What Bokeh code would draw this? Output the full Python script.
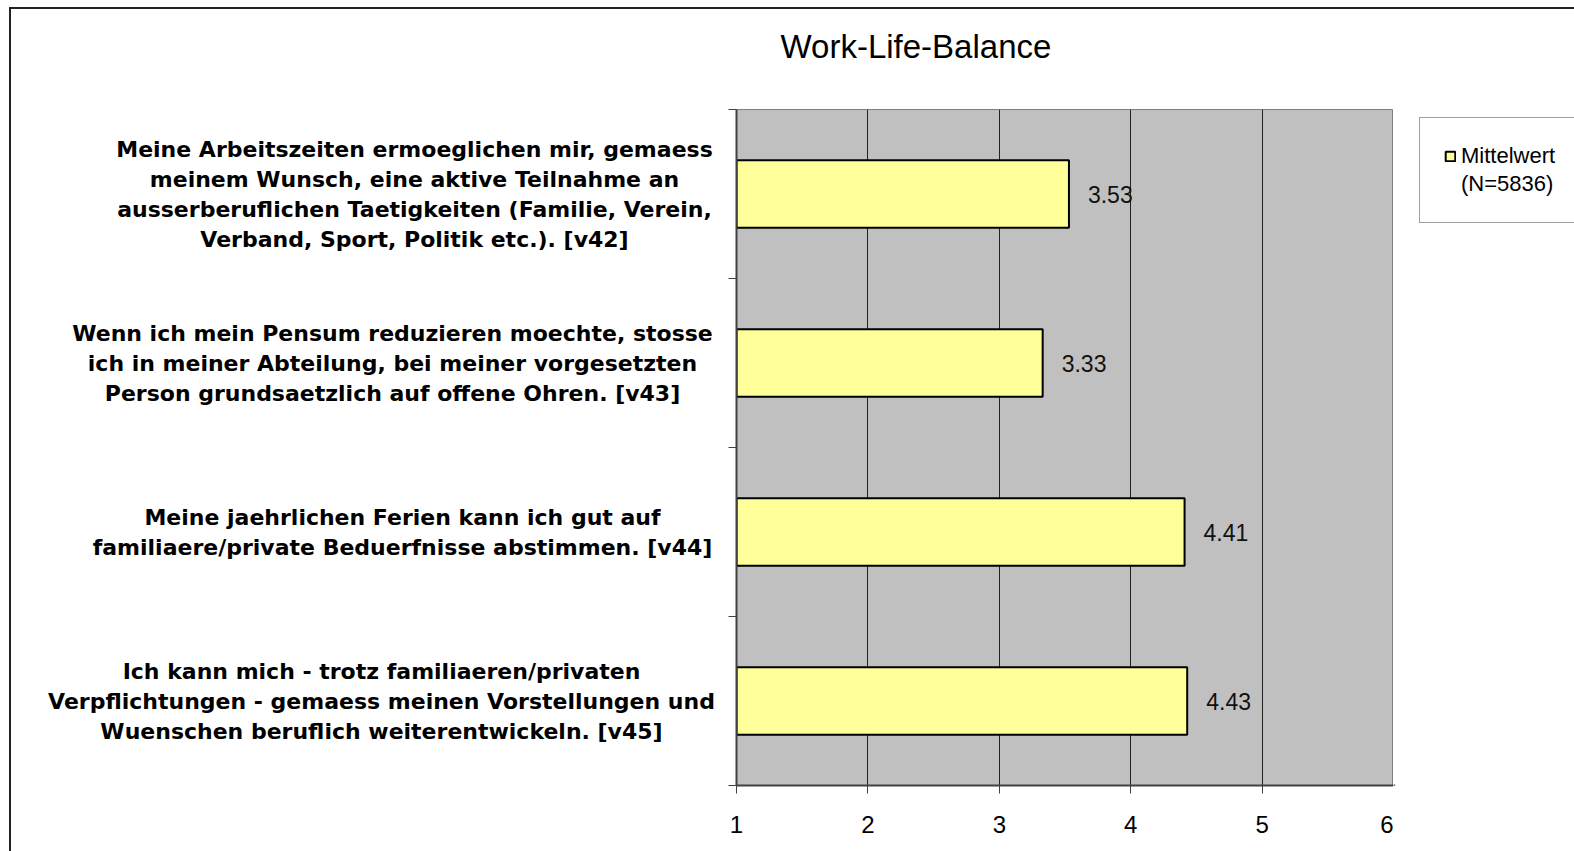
from bokeh.plotting import figure
from bokeh.models import Range1d, FixedTicker, Legend, LegendItem, ColumnDataSource, Title, Row
from bokeh.core.properties import value
from bokeh.embed import file_html
from bokeh.resources import INLINE

# ---------------- data ----------------
title_text = "Work-Life-Balance"
categories = [
    "Meine Arbeitszeiten ermoeglichen mir, gemaess\nmeinem Wunsch, eine aktive Teilnahme an\nausserberuflichen Taetigkeiten (Familie, Verein,\nVerband, Sport, Politik etc.). [v42]",
    "Wenn ich mein Pensum reduzieren moechte, stosse\nich in meiner Abteilung, bei meiner vorgesetzten\nPerson grundsaetzlich auf offene Ohren. [v43]",
    "Meine jaehrlichen Ferien kann ich gut auf\nfamiliaere/private Beduerfnisse abstimmen. [v44]",
    "Ich kann mich - trotz familiaeren/privaten\nVerpflichtungen - gemaess meinen Vorstellungen und\nWuenschen beruflich weiterentwickeln. [v45]",
]
values = [3.53, 3.33, 4.41, 4.43]
value_labels = ["3.53", "3.33", "4.41", "4.43"]
x_ticks = [1, 2, 3, 4, 5, 6]
series_name = "Mittelwert"
series_note = "(N=5836)"

# ---------------- layout / style ----------------
FONT = "Liberation Sans"
LABEL_FONT = "DejaVu Sans"
W, H = 1574, 851
LEFT_W = 724
RIGHT_W = 181
label_centers_px = [414, 392, 402, 381]   # centre of each label block (px)
BAR_FILL = "#FFFF99"

n = len(categories)
centers = [i + 0.5 for i in range(n)]
y_range = Range1d(n, 0)

# ---- left panel with the category texts ----
q = figure(width=LEFT_W, height=H, output_backend="svg", toolbar_location=None,
           x_range=Range1d(0, LEFT_W), y_range=y_range, x_axis_type=None, y_axis_type=None,
           min_border_left=0, min_border_right=0, min_border_top=109, min_border_bottom=66)
q.outline_line_color = None
q.background_fill_color = None
q.border_fill_color = None
q.text(x=label_centers_px, y=centers, text=categories, text_align="center",
       text_baseline="middle", text_font=value(LABEL_FONT), text_font_size="22px",
       text_font_style="bold", text_color="black", text_line_height=1.2)

# ---- main chart ----
p = figure(width=W - LEFT_W - RIGHT_W, height=H, output_backend="svg", toolbar_location=None,
           x_range=Range1d(x_ticks[0], x_ticks[-1]), y_range=y_range,
           min_border_left=12, min_border_right=0, min_border_top=109, min_border_bottom=66)

p.background_fill_color = "#C0C0C0"
p.border_fill_color = None
p.outline_line_color = "#808080"
p.outline_line_width = 1

p.xgrid.ticker = FixedTicker(ticks=x_ticks[1:-1])
p.xgrid.grid_line_color = "#222222"
p.xgrid.grid_line_width = 1
p.ygrid.grid_line_color = None

p.xaxis.ticker = FixedTicker(ticks=x_ticks)
p.xaxis.axis_line_color = "#404040"
p.xaxis.axis_line_width = 2
p.xaxis.major_tick_line_color = "#404040"
p.xaxis.major_tick_out = 8
p.xaxis.major_tick_in = 0
p.xaxis.minor_tick_line_color = None
p.xaxis.major_label_text_font = FONT
p.xaxis.major_label_text_font_size = "24px"
p.xaxis.major_label_text_color = "black"
p.xaxis.major_label_standoff = 22

p.yaxis.ticker = FixedTicker(ticks=list(range(n + 1)))
p.yaxis.axis_line_color = "#404040"
p.yaxis.axis_line_width = 2
p.yaxis.major_tick_line_color = "#404040"
p.yaxis.major_tick_out = 8
p.yaxis.major_tick_in = 0
p.yaxis.minor_tick_line_color = None
p.yaxis.major_label_text_font_size = "0px"
p.yaxis.major_label_standoff = 0
p.yaxis.major_label_overrides = {i: "" for i in range(n + 1)}

src = ColumnDataSource(dict(y=centers, v=values, lab=value_labels))
p.hbar(y="y", left=x_ticks[0], right="v", height=0.4, source=src,
       fill_color=BAR_FILL, line_color="black", line_width=2)

p.text(x="v", y="y", text="lab", source=src, x_offset=19, text_baseline="middle",
       text_align="left", text_font=value(FONT), text_font_size="23px", text_color="#111111")

# title (spacer title keeps the real one higher above the frame)
p.add_layout(Title(text=" ", text_font_size="10px", standoff=10), "above")
p.add_layout(Title(text=title_text, text_font=FONT, text_font_size="33px",
                   text_font_style="normal", text_color="black", align="left", offset=44,
                   vertical_align="top", standoff=40), "above")

# ---- right panel with the legend (frame is aligned with the main frame) ----
r = figure(width=RIGHT_W, height=H, output_backend="svg", toolbar_location=None,
           x_range=Range1d(0, RIGHT_W), y_range=Range1d(0, 1), x_axis_type=None, y_axis_type=None,
           min_border_left=0, min_border_right=0, min_border_top=109, min_border_bottom=66)
r.outline_line_color = None
r.background_fill_color = None
r.border_fill_color = None
# legend swatch renderers: one point each, placed outside the visible range
sw = r.hbar(y=[-10], left=[0], right=[1], height=1, fill_color=BAR_FILL,
            line_color="black", line_width=2)
blank = r.hbar(y=[-10], left=[0], right=[1], height=1, fill_alpha=0, line_alpha=0)
legend = Legend(items=[LegendItem(label=series_name, renderers=[sw]),
                       LegendItem(label=series_note, renderers=[blank])],
                location=(26, 562), margin=0, padding=24, spacing=0,
                glyph_width=12, glyph_height=12, label_standoff=5, label_height=28,
                label_text_font=FONT, label_text_font_size="22px", label_text_color="black",
                border_line_color="#404040", border_line_width=1,
                background_fill_color="white", background_fill_alpha=1)
r.add_layout(legend)

layout = Row(children=[q, p, r], spacing=0,
             styles={"box-shadow": "inset 9px 7px 0 0 white, inset 11px 9px 0 0 #222222"})

open("out.html", "w").write(file_html(layout, INLINE))
